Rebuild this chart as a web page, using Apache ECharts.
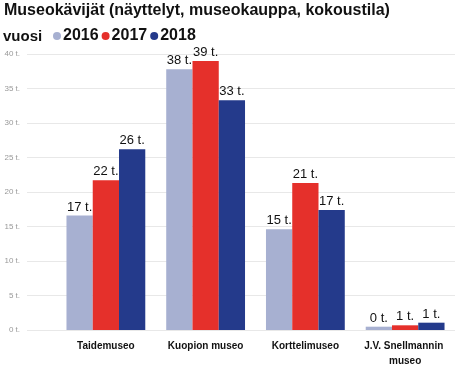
<!DOCTYPE html>
<html>
<head>
    <meta charset="utf-8">
    <title>Museokävijät</title>
    <script src="https://cdn.jsdelivr.net/npm/echarts@6.0.0/dist/echarts.min.js"></script>
    <style>
        html, body { margin: 0; padding: 0; background: #fff; }
        #chartContainer { width: 455px; height: 369px; }
    </style>
</head>
<body>
    <div id="chartContainer"></div>
    <script>
        // data (tuhatta kävijää)
        const categories = ['Taidemuseo', 'Kuopion museo', 'Korttelimuseo', 'J.V. Snellmannin museo'];
        const years = ['2016', '2017', '2018'];
        const values2016 = [16.6, 37.8, 14.6, 0.48];
        const values2017 = [21.7, 39.0, 21.3, 0.68];
        const values2018 = [26.2, 33.3, 17.4, 1.06];
        const yTicks = [0, 5, 10, 15, 20, 25, 30, 35, 40];

        const colors = ['#a7b0d1', '#e5302b', '#243a8b'];
        const font = "'Liberation Sans', Arial, sans-serif";

        const chart = echarts.init(document.getElementById('chartContainer'));

        const makeSeries = (name, data, i) => ({
            name: name,
            type: 'bar',
            xAxisIndex: 1,
            yAxisIndex: 1,
            data: data,
            itemStyle: { color: colors[i] },
            barGap: '0%',
            barCategoryGap: '21%',
            label: {
                show: true,
                position: 'top',
                distance: 2,
                color: '#111',
                fontSize: 13,
                fontFamily: font,
                formatter: p => Math.round(p.value) + ' t.'
            }
        });

        const option = {
            animation: false,
            title: [
                {
                    text: 'Museokävijät (näyttelyt, museokauppa, kokoustila)',
                    left: 4, top: 3, padding: 0,
                    textStyle: { fontSize: 16, fontWeight: 'bold', color: '#111', fontFamily: font }
                },
                {
                    text: 'vuosi',
                    left: 3, top: 29, padding: 0,
                    textStyle: { fontSize: 15, fontWeight: 'bold', color: '#111', fontFamily: font }
                }
            ],
            legend: {
                left: 48, top: 23,
                icon: 'circle',
                itemWidth: 8, itemHeight: 8,
                itemGap: 3,
                textStyle: { fontSize: 16, fontWeight: 'bold', color: '#111', fontFamily: font, padding: [0, 0, 0, -3] },
                data: years
            },
            grid: [
                { left: 27, right: 0, top: 54, bottom: 39 },
                { left: 56, right: -3, top: 54, bottom: 39 }
            ],
            xAxis: [
                { gridIndex: 0, type: 'category', data: categories, show: false },
                {
                    gridIndex: 1,
                    type: 'category',
                    data: categories,
                    axisLine: { show: false },
                    axisTick: { show: false },
                    axisLabel: {
                        margin: 9,
                        fontSize: 10,
                        fontWeight: 'bold',
                        color: '#111',
                        fontFamily: font,
                        lineHeight: 15,
                        width: 92,
                        overflow: 'break',
                        interval: 0
                    }
                }
            ],
            yAxis: [
                {
                    gridIndex: 0,
                    type: 'value',
                    min: yTicks[0],
                    max: yTicks[yTicks.length - 1],
                    interval: 5,
                    axisLine: { show: false },
                    axisTick: { show: false },
                    splitLine: { lineStyle: { color: '#e8e8e8', width: 1 } },
                    axisLabel: {
                        margin: 7,
                        fontSize: 8,
                        color: '#999',
                        fontFamily: font,
                        formatter: v => v + ' t.'
                    }
                },
                {
                    gridIndex: 1,
                    type: 'value',
                    min: yTicks[0],
                    max: yTicks[yTicks.length - 1],
                    interval: 5,
                    show: false
                }
            ],
            series: [
                makeSeries(years[0], values2016, 0),
                makeSeries(years[1], values2017, 1),
                makeSeries(years[2], values2018, 2)
            ]
        };

        chart.setOption(option);
    </script>
</body>
</html>
